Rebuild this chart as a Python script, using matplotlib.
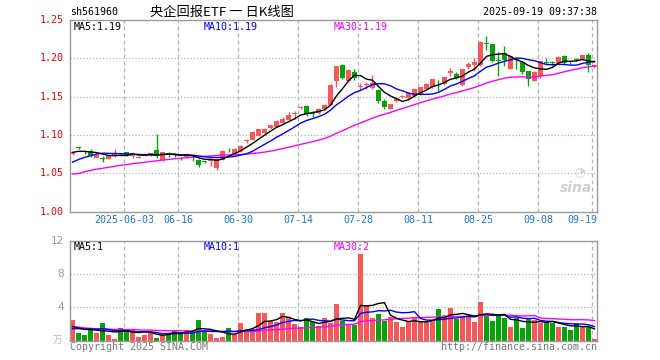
import matplotlib
matplotlib.use('Agg')
import matplotlib.pyplot as plt
import numpy as np
import math

# ---------------- data ----------------
dates = (["05-20", "05-21", "05-22", "05-23", "05-26", "05-27", "05-28", "05-29", "05-30"] +
         ["06-03", "06-04", "06-05", "06-06", "06-09", "06-10", "06-11", "06-12", "06-13",
          "06-16", "06-17", "06-18", "06-19", "06-20", "06-23", "06-24", "06-25", "06-26",
          "06-27", "06-30"] +
         ["07-01", "07-02", "07-03", "07-04", "07-07", "07-08", "07-09", "07-10", "07-11",
          "07-14", "07-15", "07-16", "07-17", "07-18", "07-21", "07-22", "07-23", "07-24",
          "07-25", "07-28", "07-29", "07-30", "07-31"] +
         ["08-01", "08-04", "08-05", "08-06", "08-07", "08-08", "08-11", "08-12", "08-13",
          "08-14", "08-15", "08-18", "08-19", "08-20", "08-21", "08-22", "08-25", "08-26",
          "08-27", "08-28", "08-29"] +
         ["09-01", "09-02", "09-03", "09-04", "09-05", "09-08", "09-09", "09-10", "09-11",
          "09-12", "09-15", "09-16", "09-17", "09-18", "09-19"])

opens = [1.0748, 1.0835, 1.0780, 1.0797, 1.0699, 1.0690, 1.0690, 1.0721, 1.0755, 1.0779,
         1.0721, 1.0706, 1.0745, 1.0739, 1.0810, 1.0668, 1.0752, 1.0742, 1.0699, 1.0713,
         1.0725, 1.0668, 1.0650, 1.0655, 1.0567, 1.0677, 1.0805, 1.0757, 1.0788, 1.0920,
         1.0938, 1.0991, 1.1026, 1.1090, 1.1105, 1.1161, 1.1196, 1.1270, 1.1355, 1.1384,
         1.1285, 1.1283, 1.1340, 1.1397, 1.1702, 1.1907, 1.1702, 1.1823, 1.1628, 1.1650,
         1.1614, 1.1592, 1.1440, 1.1344, 1.1445, 1.1495, 1.1480, 1.1510, 1.1530, 1.1602,
         1.1620, 1.1668, 1.1659, 1.1803, 1.1798, 1.1650, 1.1890, 1.1908, 1.1908, 1.2200,
         1.2182, 1.1970, 1.2073, 1.1864, 1.1980, 1.1951, 1.1829, 1.1711, 1.1767, 1.1950,
         1.1945, 1.1942, 1.2029, 1.1955, 1.1994, 1.1986, 1.2038, 1.1886]
highs = [1.0785, 1.0845, 1.0800, 1.0819, 1.0750, 1.0722, 1.0735, 1.0823, 1.0770, 1.0785,
         1.0775, 1.0725, 1.0765, 1.0770, 1.1009, 1.0780, 1.0775, 1.0766, 1.0710, 1.0755,
         1.0745, 1.0690, 1.0660, 1.0695, 1.0690, 1.0800, 1.0825, 1.0825, 1.0870, 1.0950,
         1.1050, 1.1080, 1.1090, 1.1135, 1.1190, 1.1240, 1.1300, 1.1310, 1.1380, 1.1390,
         1.1310, 1.1350, 1.1400, 1.1665, 1.1900, 1.1920, 1.1865, 1.1860, 1.1680, 1.1685,
         1.1780, 1.1600, 1.1465, 1.1410, 1.1495, 1.1520, 1.1560, 1.1610, 1.1625, 1.1680,
         1.1735, 1.1724, 1.1760, 1.1876, 1.1820, 1.1860, 1.1951, 1.2007, 1.2225, 1.2291,
         1.2185, 1.2082, 1.2160, 1.2040, 1.2020, 1.1960, 1.1840, 1.1830, 1.1970, 1.2007,
         1.1965, 1.2030, 1.2038, 1.1975, 1.2000, 1.2050, 1.2073, 1.1915]
lows = [1.0740, 1.0820, 1.0750, 1.0713, 1.0695, 1.0642, 1.0685, 1.0715, 1.0730, 1.0725,
        1.0700, 1.0695, 1.0720, 1.0730, 1.0700, 1.0660, 1.0713, 1.0713, 1.0680, 1.0705,
        1.0655, 1.0589, 1.0635, 1.0602, 1.0545, 1.0670, 1.0785, 1.0750, 1.0780, 1.0890,
        1.0935, 1.0985, 1.1015, 1.1080, 1.1100, 1.1155, 1.1190, 1.1210, 1.1340, 1.1245,
        1.1230, 1.1275, 1.1330, 1.1390, 1.1628, 1.1730, 1.1695, 1.1720, 1.1590, 1.1600,
        1.1605, 1.1415, 1.1333, 1.1335, 1.1435, 1.1480, 1.1470, 1.1500, 1.1520, 1.1595,
        1.1610, 1.1571, 1.1650, 1.1767, 1.1725, 1.1640, 1.1864, 1.1833, 1.1900, 1.2108,
        1.1950, 1.1767, 1.1899, 1.1855, 1.1864, 1.1800, 1.1637, 1.1700, 1.1746, 1.1921,
        1.1900, 1.1935, 1.1921, 1.1930, 1.1960, 1.1980, 1.1820, 1.1880]
closes = [1.0779, 1.0830, 1.0774, 1.0730, 1.0743, 1.0686, 1.0730, 1.0766, 1.0750, 1.0735,
          1.0770, 1.0710, 1.0750, 1.0766, 1.0721, 1.0775, 1.0748, 1.0739, 1.0695, 1.0748,
          1.0721, 1.0611, 1.0646, 1.0686, 1.0686, 1.0797, 1.0800, 1.0819, 1.0863, 1.0930,
          1.1039, 1.1073, 1.1082, 1.1126, 1.1178, 1.1213, 1.1265, 1.1275, 1.1362, 1.1279,
          1.1280, 1.1335, 1.1387, 1.1658, 1.1894, 1.1745, 1.1850, 1.1745, 1.1640, 1.1662,
          1.1680, 1.1440, 1.1360, 1.1405, 1.1480, 1.1505, 1.1550, 1.1600, 1.1620, 1.1660,
          1.1730, 1.1660, 1.1752, 1.1835, 1.1745, 1.1855, 1.1921, 1.1947, 1.2213, 1.2190,
          1.1964, 1.1964, 1.1977, 1.2029, 1.1975, 1.1820, 1.1735, 1.1820, 1.1964, 1.1945,
          1.1942, 1.2021, 1.1942, 1.1951, 1.1977, 1.2038, 1.1908, 1.1908]
volumes = [2.48, 0.92, 0.66, 1.34, 0.92, 2.12, 0.68, 0.20, 1.52, 1.40,
           1.34, 0.44, 0.68, 1.15, 0.32, 0.68, 0.86, 1.28, 1.10, 1.28,
           1.16, 2.48, 1.10, 0.80, 0.32, 0.44, 1.52, 0.80, 2.12, 1.40,
           1.40, 3.32, 3.32, 2.36, 2.24, 3.32, 2.84, 2.00, 1.64, 2.72,
           2.24, 1.76, 2.72, 2.10, 4.40, 2.42, 2.06, 1.90, 10.40, 4.12,
           2.72, 3.20, 2.40, 2.86, 2.26, 1.64, 2.36, 2.84, 2.24, 2.24,
           2.48, 3.80, 3.08, 3.92, 2.58, 2.98, 3.04, 2.24, 4.64, 3.12,
           2.36, 2.98, 2.72, 1.64, 2.78, 1.52, 2.60, 2.48, 2.12, 2.24,
           2.12, 1.64, 1.64, 1.28, 2.12, 1.76, 1.70, 0.20]

# sessions before the visible window, inferred from where the MA lines start
prior_closes = [1.063, 1.008, 1.018, 1.028, 1.033, 1.035, 1.038, 1.039, 1.041, 1.043,
                1.045, 1.046, 1.047, 1.046, 1.047, 1.048, 1.049, 1.050, 1.051, 1.052,
                1.048, 1.050, 1.051, 1.053, 1.057, 1.076, 1.078, 1.077, 1.078]
prior_volumes = [1.2, 3.5, 3.0, 2.6, 2.0, 1.8, 1.6, 1.5, 1.7, 1.4,
                 1.3, 1.5, 1.4, 1.6, 1.3, 1.2, 1.3, 1.2, 2.0, 1.6,
                 1.0, 1.1, 1.2, 1.3, 1.4, 1.8, 1.5, 1.4, 1.32]

tick_dates = ["06-03", "06-16", "06-30", "07-14", "07-28", "08-11", "08-25", "09-08", "09-19"]
tick_labels = ["2025-06-03", "06-16", "06-30", "07-14", "07-28", "08-11", "08-25", "09-08", "09-19"]
price_ticks = [1.00, 1.05, 1.10, 1.15, 1.20, 1.25]
vol_ticks = [4, 8, 12]

# ---------------- styling ----------------
W, H = 660, 360
RED = '#fa5858'
GREEN = '#08a308'
GRID = '#b4b4b4'
SPINE = '#9a9a9a'
MONO = 'DejaVu Sans Mono'
CJK = ['Noto Sans CJK SC', 'DejaVu Sans']

fig = plt.figure(figsize=(6.6, 3.6), dpi=100)
fig.patch.set_facecolor('white')


def fx(px):
    return px / W


def fy(py):
    return 1 - py / H


def trunc2(val):
    return math.floor(val * 100 + 1e-9) / 100


L, R = 70, 597
ax = fig.add_axes([fx(L), fy(211.7), fx(R) - fx(L), fy(20) - fy(211.7)])
axv = fig.add_axes([fx(L), fy(340.7), fx(R) - fx(L), fy(240.7) - fy(340.7)])

n = len(closes)
x = np.arange(n)
o = np.array(opens)
h = np.array(highs)
lo = np.array(lows)
c = np.array(closes)
v = np.array(volumes)
up = c >= o
cols = np.where(up, RED, GREEN)


def ma(hist, vals, k):
    s = np.concatenate([hist, vals])
    out = np.convolve(s, np.ones(k) / k, mode='valid')
    return out[-len(vals):]


ma5 = ma(prior_closes, c, 5)
ma10 = ma(prior_closes, c, 10)
ma30 = ma(prior_closes, c, 30)
vma5 = ma(prior_volumes, v, 5)
vma10 = ma(prior_volumes, v, 10)
vma30 = ma(prior_volumes, v, 30)

xl = (-0.42, n - 1 + 0.42)
grid_x = [dates.index(d) - 0.35 for d in tick_dates]

for a in (ax, axv):
    a.set_xlim(*xl)
    a.set_xticks([])
    a.set_yticks([])
    for s in a.spines.values():
        s.set_color(SPINE)
        s.set_linewidth(1.0)
    for gx in grid_x:
        a.axvline(gx, color=GRID, lw=0.9, ls=(0, (3.2, 2.4)), zorder=0)

# ---- price panel ----
ax.set_ylim(1.0, 1.25)
for yv in price_ticks[1:-1]:
    ax.axhline(yv, color=GRID, lw=0.9, ls=(0, (1, 1.6)), zorder=0)

min_h = 0.0011
body_b = np.minimum(o, c)
body_h = np.maximum(np.abs(c - o), min_h)
ax.vlines(x, lo, h, colors=cols, lw=1.0, zorder=2)
ax.bar(x, body_h, bottom=body_b, width=0.8, color=cols, edgecolor='none', zorder=3)

ax.plot(x, ma30, color='#ff00ff', lw=1.0, zorder=4)
ax.plot(x, ma10, color='#0000ff', lw=1.0, zorder=4)
ax.plot(x, ma5, color='#000000', lw=1.0, zorder=4)

for yv in price_ticks:
    ax.text(-0.011, yv, f"{yv:.2f}", transform=ax.get_yaxis_transform(), ha='right',
            va='center', color='#ff0000', fontsize=7.2, family=MONO)

for gx, lab in zip(grid_x, tick_labels):
    if lab == tick_labels[-1]:
        ax.text(1.0, -0.045, lab, transform=ax.transAxes, ha='right', va='center',
                color='#1f78d6', fontsize=7.2, family=MONO)
    else:
        ax.text(gx, -0.045, lab, transform=ax.get_xaxis_transform(), ha='center',
                va='center', color='#1f78d6', fontsize=7.2, family=MONO)

# ---- volume panel ----
axv.set_ylim(0, 12)
for yv in vol_ticks[:-1]:
    axv.axhline(yv, color=GRID, lw=0.9, ls=(0, (1, 1.6)), zorder=0)
axv.bar(x, v, width=0.83, color=cols, edgecolor='none', zorder=2)
axv.plot(x, vma30, color='#ff00ff', lw=1.0, zorder=4)
axv.plot(x, vma10, color='#0000ff', lw=1.0, zorder=4)
axv.plot(x, vma5, color='#000000', lw=1.0, zorder=4)
for yv in vol_ticks:
    axv.text(-0.011, yv, f"{yv}", transform=axv.get_yaxis_transform(), ha='right',
             va='center', color='#999999', fontsize=7.5)

# ---- texts ----
fig.text(fx(70), fy(12), "sh561960", ha='left', va='center', fontsize=7.2, family=MONO)
fig.text(fx(222), fy(12), "央企回报ETF 一 日K线图", ha='center', va='center', fontsize=9.5, family=CJK)
fig.text(fx(597), fy(12), "2025-09-19 09:37:38", ha='right', va='center', fontsize=7.2, family=MONO)

fig.text(fx(74), fy(27), f"MA5:{trunc2(ma5[-1]):.2f}", ha='left', va='center', fontsize=7.2,
         family=MONO, color='#000000')
fig.text(fx(204), fy(27), f"MA10:{trunc2(ma10[-1]):.2f}", ha='left', va='center', fontsize=7.2,
         family=MONO, color='#0000ff')
fig.text(fx(334), fy(27), f"MA30:{trunc2(ma30[-1]):.2f}", ha='left', va='center', fontsize=7.2,
         family=MONO, color='#ff00ff')

fig.text(fx(74), fy(247), f"MA5:{int(vma5[-1])}", ha='left', va='center', fontsize=7.2,
         family=MONO, color='#000000')
fig.text(fx(204), fy(247), f"MA10:{int(vma10[-1])}", ha='left', va='center', fontsize=7.2,
         family=MONO, color='#0000ff')
fig.text(fx(334), fy(247), f"MA30:{int(vma30[-1])}", ha='left', va='center', fontsize=7.2,
         family=MONO, color='#ff00ff')

fig.text(fx(58), fy(340), "万", ha='center', va='center', fontsize=7, family=CJK, color='#bbbbbb')
fig.text(fx(70), fy(347), "Copyright 2025 SINA.COM", ha='left', va='center', fontsize=7.2,
         family=MONO, color='#777777')
fig.text(fx(597), fy(347), "http://finance.sina.com.cn", ha='right', va='center', fontsize=7.2,
         family=MONO, color='#777777')

# sina watermark
fig.text(fx(576), fy(188), "sina", ha='center', va='center', fontsize=10, color='#cfcfcf',
         fontstyle='italic', fontweight='bold')
fig.text(fx(580), fy(172), "◔", ha='center', va='center', fontsize=9, color='#d6d6d6')

fig.savefig('out.png', dpi=100, facecolor='white')
